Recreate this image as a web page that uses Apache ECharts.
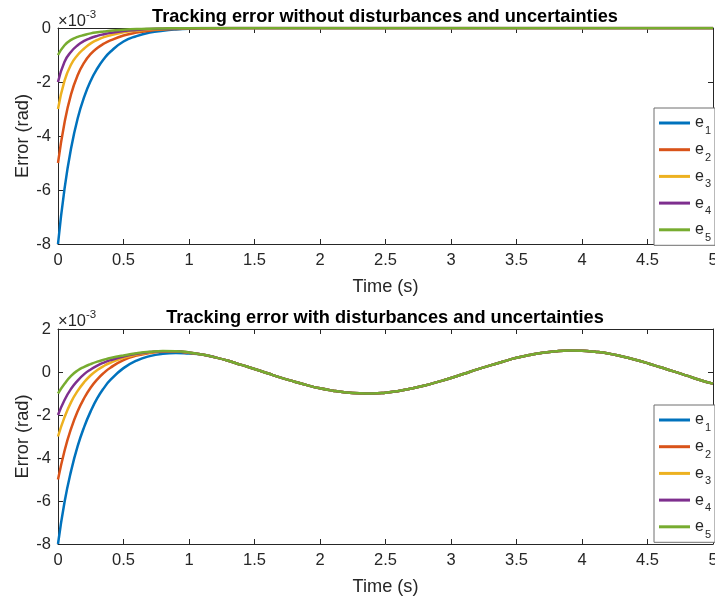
<!DOCTYPE html>
<html lang="en">
<head>
<meta charset="UTF-8">
<title>Tracking error</title>
<style>
  html, body { margin: 0; padding: 0; background: #fff; }
  #chart { width: 715px; height: 600px; }
</style>
</head>
<body>
<div id="chart"></div>
<script src="https://cdn.jsdelivr.net/npm/echarts@6/dist/echarts.min.js"></script>
<script>
// all error values are in units of 1e-3 rad (axis shows x10^-3)
var names = ['e1', 'e2', 'e3', 'e4', 'e5'];
var colors = ['#0072BD', '#D95319', '#EDB120', '#7E2F8E', '#77AC30'];

// top plot: without disturbances
var tTop = [0, 0.05, 0.1, 0.15, 0.2, 0.25, 0.3, 0.35, 0.4, 0.5, 0.6, 0.7, 0.8, 0.9, 1.0, 1.2, 1.4, 1.6, 2, 3, 4, 5];
var e1Top = [-8, -5.95, -4.45, -3.35, -2.55, -1.95, -1.5, -1.15, -0.88, -0.5, -0.3, -0.17, -0.1, -0.055, -0.03, -0.01, -0.003, 0, 0, 0, 0, 0];
var e2Top = [-5, -3.5, -2.45, -1.75, -1.28, -0.96, -0.74, -0.58, -0.46, -0.28, -0.17, -0.1, -0.06, -0.035, -0.02, -0.006, -0.002, 0, 0, 0, 0, 0];
var e3Top = [-3, -1.95, -1.35, -1.0, -0.76, -0.57, -0.44, -0.34, -0.27, -0.16, -0.1, -0.06, -0.035, -0.02, -0.012, -0.004, -0.001, 0, 0, 0, 0, 0];
var e4Top = [-2, -1.25, -0.88, -0.64, -0.48, -0.37, -0.29, -0.23, -0.18, -0.11, -0.07, -0.04, -0.025, -0.015, -0.008, -0.002, 0, 0, 0, 0, 0, 0];
var e5Top = [-1, -0.64, -0.44, -0.33, -0.26, -0.2, -0.16, -0.13, -0.1, -0.065, -0.04, -0.025, -0.015, -0.009, -0.005, -0.001, 0, 0, 0, 0, 0, 0];

// bottom plot: with disturbances, transient part
var tBotHead = [0, 0.05, 0.1, 0.15, 0.2, 0.25, 0.3, 0.35, 0.4, 0.5, 0.6, 0.7, 0.8, 0.9, 1.0];
var e1Bot = [-8, -6.05, -4.6, -3.45, -2.55, -1.82, -1.22, -0.75, -0.37, 0.18, 0.53, 0.74, 0.85, 0.885, 0.855];
var e2Bot = [-5, -3.66, -2.63, -1.83, -1.21, -0.72, -0.34, -0.04, 0.2, 0.55, 0.76, 0.88, 0.94, 0.95, 0.895];
var e3Bot = [-3, -2.1, -1.4, -0.88, -0.47, -0.15, 0.09, 0.28, 0.43, 0.66, 0.81, 0.91, 0.96, 0.96, 0.9];
var e4Bot = [-2, -1.3, -0.78, -0.4, -0.1, 0.12, 0.3, 0.44, 0.55, 0.72, 0.85, 0.93, 0.97, 0.965, 0.905];
var e5Bot = [-1, -0.55, -0.18, 0.07, 0.24, 0.37, 0.48, 0.57, 0.65, 0.77, 0.87, 0.94, 0.975, 0.97, 0.91];
// after ~1 s all five curves lie on top of each other
var tBotTail = [1.1, 1.2, 1.3, 1.4, 1.5, 1.6, 1.7, 1.8, 1.9, 2.0, 2.1, 2.2, 2.3, 2.4, 2.5, 2.6, 2.7, 2.8, 2.9, 3.0,
                3.1, 3.2, 3.3, 3.4, 3.5, 3.6, 3.7, 3.8, 3.9, 4.0, 4.1, 4.2, 4.3, 4.4, 4.5, 4.6, 4.7, 4.8, 4.9, 5.0];
var eBotTail = [0.81, 0.68, 0.52, 0.33, 0.14, -0.06, -0.26, -0.44, -0.61, -0.76, -0.87, -0.95, -0.99, -1.0, -0.96, -0.88, -0.77, -0.63, -0.46, -0.28,
                -0.08, 0.12, 0.31, 0.49, 0.66, 0.79, 0.9, 0.97, 1.0, 0.99, 0.94, 0.86, 0.73, 0.58, 0.41, 0.22, 0.03, -0.17, -0.37, -0.54];

var topSets = [e1Top, e2Top, e3Top, e4Top, e5Top];
var botSets = [e1Bot, e2Bot, e3Bot, e4Bot, e5Bot];

var txt = '#262626';
var font = '"Liberation Sans", Arial, Helvetica, sans-serif';

function pairs(ts, vs) {
    return ts.map(function (t, i) { return [t, vs[i]]; });
}

function xAx(grid, pos, withLabel) {
    return {
        type: 'value', gridIndex: grid, position: pos, min: 0, max: 5, interval: 0.5,
        axisLine: { show: true, onZero: false, lineStyle: { color: txt, width: 1 } },
        axisTick: { show: true, inside: true, length: 5, lineStyle: { color: txt } },
        axisLabel: { show: withLabel, fontSize: 16.5, color: txt, margin: 8, fontFamily: font },
        splitLine: { show: false },
        name: withLabel ? 'Time (s)' : '',
        nameLocation: 'middle', nameGap: 34,
        nameTextStyle: { fontSize: 18.2, color: txt, fontFamily: font }
    };
}

function yAx(grid, pos, mn, mx, withLabel) {
    return {
        type: 'value', gridIndex: grid, position: pos, min: mn, max: mx, interval: 2,
        axisLine: { show: true, onZero: false, lineStyle: { color: txt, width: 1 } },
        axisTick: { show: true, inside: true, length: 5, lineStyle: { color: txt } },
        axisLabel: { show: withLabel, fontSize: 16.5, color: txt, margin: 7, fontFamily: font },
        splitLine: { show: false },
        name: withLabel ? 'Error (rad)' : '',
        nameLocation: 'middle', nameGap: 26, nameMoveOverlap: false,
        nameTextStyle: { fontSize: 18.2, color: txt, fontFamily: font }
    };
}

function legendAt(top) {
    return {
        data: names, orient: 'vertical', left: 654, top: top,
        icon: 'rect', itemWidth: 31, itemHeight: 3, itemGap: 5.2,
        padding: [7, 4, 2, 5],
        borderColor: '#6e6e6e', borderWidth: 1, backgroundColor: '#fff',
        selectedMode: false,
        formatter: function (n) { return '{e|e}{s|' + n.slice(1) + '}'; },
        textStyle: {
            color: txt, fontFamily: font,
            rich: {
                e: { fontSize: 16, color: txt, fontFamily: font },
                s: { fontSize: 11, color: txt, fontFamily: font, padding: [16, 0, 0, 1] }
            }
        }
    };
}

var series = [];
names.forEach(function (n, i) {
    series.push({
        name: n, type: 'line', xAxisIndex: 0, yAxisIndex: 0,
        data: pairs(tTop, topSets[i]), showSymbol: false, smooth: 0.5,
        lineStyle: { width: 2.5, color: colors[i] }, itemStyle: { color: colors[i] }
    });
});
names.forEach(function (n, i) {
    series.push({
        name: n, type: 'line', xAxisIndex: 2, yAxisIndex: 2,
        data: pairs(tBotHead.concat(tBotTail), botSets[i].concat(eBotTail)), showSymbol: false, smooth: 0.5,
        lineStyle: { width: 2.5, color: colors[i] }, itemStyle: { color: colors[i] }
    });
});

var expRich = {
    a: { fontSize: 16.5, fontWeight: 'normal', color: txt, fontFamily: font },
    b: { fontSize: 11.5, fontWeight: 'normal', color: txt, fontFamily: font, padding: [0, 0, 13, 0] }
};

var option = {
    animation: false,
    textStyle: { fontFamily: font },
    title: [
        { text: 'Tracking error without disturbances and uncertainties', left: 385, top: 7.5, textAlign: 'center', padding: 0,
          textStyle: { fontSize: 18.2, fontWeight: 'bold', color: '#000', fontFamily: font } },
        { text: 'Tracking error with disturbances and uncertainties', left: 385, top: 308.5, textAlign: 'center', padding: 0,
          textStyle: { fontSize: 18.2, fontWeight: 'bold', color: '#000', fontFamily: font } },
        { text: '{a|×10}{b|-3}', left: 58, top: 9, padding: 0, textStyle: { fontWeight: 'normal', rich: expRich } },
        { text: '{a|×10}{b|-3}', left: 58, top: 309, padding: 0, textStyle: { fontWeight: 'normal', rich: expRich } }
    ],
    grid: [
        { left: 58, top: 28, width: 655, height: 216, outerBoundsMode: 'none' },
        { left: 58, top: 329, width: 655, height: 215, outerBoundsMode: 'none' }
    ],
    xAxis: [xAx(0, 'bottom', true), xAx(0, 'top', false), xAx(1, 'bottom', true), xAx(1, 'top', false)],
    yAxis: [yAx(0, 'left', -8, 0, true), yAx(0, 'right', -8, 0, false), yAx(1, 'left', -8, 2, true), yAx(1, 'right', -8, 2, false)],
    legend: [legendAt(108), legendAt(405)],
    series: series
};

var mChart = echarts.init(document.getElementById('chart'));
mChart.setOption(option);
</script>
</body>
</html>
